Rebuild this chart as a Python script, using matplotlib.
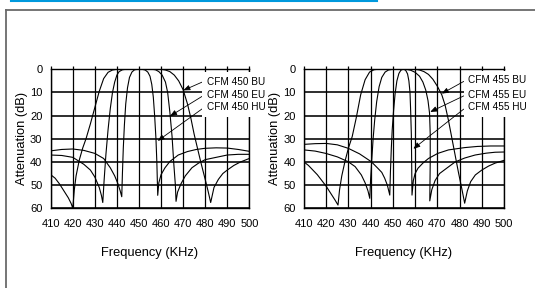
import matplotlib
matplotlib.use("Agg")
import matplotlib.pyplot as plt
from matplotlib.lines import Line2D

plt.rcParams['font.family'] = ['Liberation Sans', 'DejaVu Sans']

# ---- CFM 450 family (left chart) ----
bu450_f = [410, 412, 414, 416, 418, 419.3, 420, 420.7, 421.5, 423, 424.5, 426, 428, 430, 432, 434, 436, 438, 440,
           450, 460, 462, 464, 466, 468, 470, 472, 473.5, 475, 476.5, 478, 480, 481.3, 482.5,
           484, 486, 488, 490, 493, 496, 500]
bu450_db = [45.5, 47, 49.5, 52.5, 55.5, 58, 60, 52, 46, 39, 34, 30, 23.5, 16.5, 9.5, 4, 1.3, 0.3, 0,
            0, 0, 0.3, 1, 2.5, 5, 8.8, 15, 21, 28, 34, 40, 47.5, 52.5, 57.5,
            51, 47.5, 45, 43.5, 41.5, 40, 38.5]

eu450_f = [410, 415, 420, 422.5, 425, 428, 430, 432, 433, 433.6, 434.2, 435, 436, 437, 438, 439, 440, 441, 442.5, 444,
           450, 456, 457.5, 459, 460.5, 462, 463, 464, 465, 465.8, 466.5, 466.8,
           467.5, 469, 471, 474, 477, 480, 485, 490, 495, 500]
eu450_db = [37, 37.2, 38, 39.5, 41, 43.5, 46.5, 51, 54.5, 57.5, 48, 37, 26, 17, 10, 5.5, 2.5, 1, 0.2, 0,
            0, 0, 0.2, 1, 2.5, 5.5, 10, 18.5, 29, 41, 50, 57,
            53, 49.5, 46, 42.5, 40.5, 39, 38, 37, 36.7, 36.7]

hu450_f = [410, 415, 420, 425, 430, 434, 437, 439, 440.5, 441.5, 442.2, 442.5, 442.9, 443.4, 444, 444.8, 445.7, 446.8,
           448, 449.5, 451.5, 452.8, 454, 455, 455.8, 456.5, 457.1, 457.7, 458.1, 458.5,
           459, 460, 461.8, 464, 467.8, 472, 476, 480, 485, 490, 495, 500]
hu450_db = [35.2, 34.6, 34.4, 35, 36.3, 38.5, 42.5, 46, 49.5, 52.5, 55, 45, 34, 24, 15, 8, 3.5, 1.2,
            0.2, 0, 0, 0.3, 1.2, 3, 6.5, 12, 20, 30, 40, 54.4,
            49, 45.5, 42.5, 39.8, 37, 35.5, 34.6, 34.1, 33.9, 34, 34.6, 35.4]

# ---- CFM 455 family (right chart) ----
bu455_f = [410, 412, 414, 416, 418, 420, 422, 424, 425.3, 426, 427, 428.5, 430, 431.7, 433.5, 435.5, 437.5, 439.5,
           441.5, 443, 460, 462, 464, 466, 468, 470, 472, 473.5, 475, 476.5, 478, 479.5, 481, 482.3,
           483.5, 485, 487.1, 490, 493, 496, 500]
bu455_db = [40, 41.5, 43.5, 45.5, 48, 50.5, 53.5, 56.5, 58.6, 52, 46, 39.5, 34, 29, 21, 11, 4.5, 1.2,
            0.2, 0, 0, 0.3, 1, 2.2, 4.3, 7.3, 11, 15.5, 22, 29.5, 37, 44.5, 51.5, 57.8,
            52.5, 48.5, 45.6, 43.5, 41.8, 40.5, 39.3]

eu455_f = [410, 415, 419.8, 425, 429.9, 433, 435.8, 437.5, 438.8, 439.6, 440, 440.5, 441.1, 441.8, 442.7, 443.8, 445,
           446.5, 448, 450, 456, 458, 460, 462, 463.5, 464.8, 465.8, 466.5, 466.8, 466.8, 466.6,
           467.5, 469, 471, 474.2, 478, 482.3, 487, 492, 496, 500]
eu455_db = [34.8, 35.3, 36.3, 37.8, 39.9, 42, 45.6, 49, 52.5, 55.7, 47, 39, 30, 22, 14, 7.5, 3.5,
            1.2, 0.3, 0, 0, 0.4, 1.3, 3, 5.5, 9, 13.5, 19, 28, 40, 56.8,
            52, 48, 45, 42.7, 40, 38.3, 37, 36.2, 35.8, 35.7]

hu455_f = [410, 415, 420, 425, 429.9, 435, 440.3, 443, 445, 446.3, 447.5, 448.6, 448.9, 449.3, 449.7, 450.3, 451,
           451.8, 452.7, 453.6, 454.5, 455, 455.8, 456.6, 457.2, 457.7, 458, 458.3, 458.45, 458.6,
           459.2, 460, 461.3, 463.5, 466, 470.2, 475, 482.3, 488, 494, 500]
hu455_db = [32.4, 32.1, 32, 32.6, 34.1, 36.5, 39.9, 42.5, 44.5, 47, 50, 54.3, 44, 34, 26, 18, 10.5,
            5, 1.8, 0.4, 0, 0, 0.5, 2, 5, 10, 18, 28, 40, 54.3,
            48, 45, 42.7, 40.5, 38.5, 36.3, 34.8, 33.8, 33.3, 33.1, 33.1]

freq_ticks = [410, 420, 430, 440, 450, 460, 470, 480, 490, 500]
att_ticks = [0, 10, 20, 30, 40, 50, 60]

labels_450 = ['CFM 450 BU', 'CFM 450 EU', 'CFM 450 HU']
text_450 = [(480.7, 5.3), (480.7, 11.1), (480.7, 16.3)]
tips_450 = [(470.1, 9.1), (464.1, 20.2), (458.5, 30.9)]

labels_455 = ['CFM 455 BU', 'CFM 455 EU', 'CFM 455 HU']
text_455 = [(483.9, 4.8), (483.9, 11.2), (483.9, 16.3)]
tips_455 = [(472.0, 10.5), (466.8, 18.4), (459.2, 34.3)]

fig = plt.figure(figsize=(5.35, 2.88), dpi=100)

# page decoration: blue rule and grey frame
fig.add_artist(Line2D([11 / 535, 377 / 535], [1 - 0.8 / 288] * 2, color='#0099dd', lw=1.5))
fig.add_artist(Line2D([5.5 / 535, 1.0], [1 - 9.5 / 288] * 2, color='#6a6a6a', lw=1.3))
fig.add_artist(Line2D([5.5 / 535] * 2, [0, 1 - 9.5 / 288], color='#6a6a6a', lw=1.3))


def draw_panel(ax, curves, labels, texts, tips):
    for f, db in curves:
        ax.plot(f, db, color='black', lw=0.8, zorder=3)
    ax.set_xlim(410, 500)
    ax.set_ylim(60, 0)
    ax.set_xticks(freq_ticks)
    ax.set_yticks(att_ticks)
    ax.set_axisbelow(True)
    ax.grid(axis='y', color='black', lw=1.15)
    ax.grid(axis='x', color='black', lw=0.9)
    for s in ax.spines.values():
        s.set_linewidth(1.0)
    ax.tick_params(axis='x', bottom=False, top=True, direction='out', length=2.2, width=0.9,
                   labelsize=8, pad=5.5)
    ax.tick_params(axis='y', left=False, labelsize=8, pad=2.5)
    ax.set_xlabel('Frequency (KHz)', fontsize=9.3, labelpad=13)
    ax.set_ylabel('Attenuation (dB)', fontsize=9.3, labelpad=1.5)
    for lab, (tx, ty), (px, py) in zip(labels, texts, tips):
        ax.annotate(lab, xy=(px, py), xytext=(tx, ty), ha='left', va='center', fontsize=7.2,
                    zorder=6, annotation_clip=False,
                    bbox=dict(boxstyle='square,pad=0.45', fc='white', ec='none'),
                    arrowprops=dict(arrowstyle='-|>,head_length=0.55,head_width=0.22', color='black',
                                    lw=0.6, shrinkA=0, shrinkB=0, relpos=(0, 0.65)))


ax1 = fig.add_axes([50.7 / 535, 1 - 208.3 / 288, 198.6 / 535, 139 / 288])
draw_panel(ax1, [(bu450_f, bu450_db), (eu450_f, eu450_db), (hu450_f, hu450_db)],
           labels_450, text_450, tips_450)

ax2 = fig.add_axes([304 / 535, 1 - 208.3 / 288, 200 / 535, 139 / 288])
draw_panel(ax2, [(bu455_f, bu455_db), (eu455_f, eu455_db), (hu455_f, hu455_db)],
           labels_455, text_455, tips_455)

fig.savefig('out.png', dpi=100)
